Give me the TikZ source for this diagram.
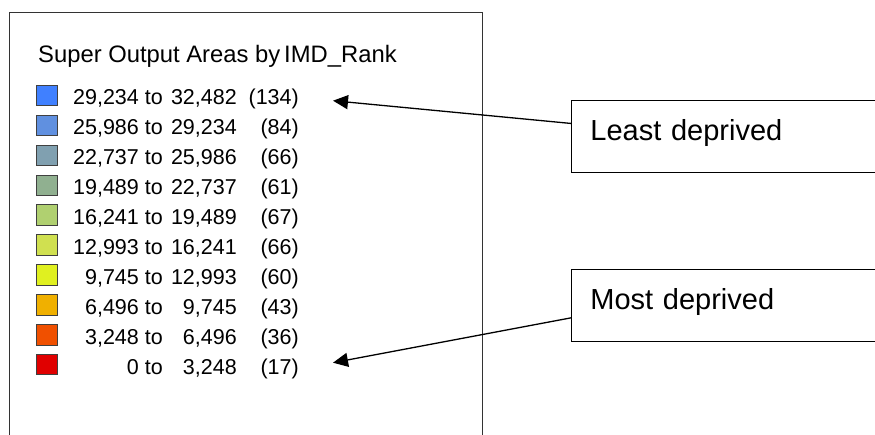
\documentclass[tikz,border=0pt]{standalone}
\usepackage{fontspec}
\setmainfont{Liberation Sans}
\usepackage{tikz}
\usetikzlibrary{positioning, arrows.meta}
\usepackage{xcolor}

\definecolor{rankA}{HTML}{4080FF}
\definecolor{rankB}{HTML}{6090E0}
\definecolor{rankC}{HTML}{80A0B0}
\definecolor{rankD}{HTML}{90B090}
\definecolor{rankE}{HTML}{B0D070}
\definecolor{rankF}{HTML}{D0E050}
\definecolor{rankG}{HTML}{E0F020}
\definecolor{rankH}{HTML}{F0B000}
\definecolor{rankI}{HTML}{F05000}
\definecolor{rankJ}{HTML}{E00000}

\begin{document}
\begin{tikzpicture}[
    x=1pt, y=-1pt,
    node distance=96pt,
    keybox/.style={draw=black!75, line width=0.8pt, minimum size=20.5pt, inner sep=0pt},
    rowtext/.style={anchor=base east, inner sep=0pt, font=\fontsize{21.5}{24}\selectfont},
    callout/.style={draw, line width=0.9pt, rectangle, align=left, text width=300pt,
        inner xsep=19pt, minimum height=72pt, text height=19pt, text depth=10pt,
        font=\fontsize{29}{32}\selectfont},
    pointer/.style={-{Triangle[length=15pt, width=14pt]}, line width=1.3pt}
]
    \clip (0,0) rectangle (875,435);

    % Frame
    \draw[line width=0.8pt, black!80] (9.5,440) -- (9.5,12) -- (482,12) -- (482,440);

    % Legend
    \node[anchor=base west, inner sep=0pt, font=\fontsize{23.8}{26}\selectfont] (title) at (38,62.5)
        {Super Output Areas by\,IMD\_Rank};
    \foreach \col/\lo/\hi/\cnt [count=\i] in {
        rankA/{29,234}/{32,482}/134, rankB/{25,986}/{29,234}/84,
        rankC/{22,737}/{25,986}/66, rankD/{19,489}/{22,737}/61,
        rankE/{16,241}/{19,489}/67, rankF/{12,993}/{16,241}/66,
        rankG/{9,745}/{12,993}/60, rankH/{6,496}/{9,745}/43,
        rankI/{3,248}/{6,496}/36, rankJ/0/{3,248}/17} {
        \pgfmathsetmacro\yb{105+29.9*(\i-1)}
        \node[keybox, fill=\col] (key\i) at (47,\yb-9.5) {};
        \node[rowtext] (lo\i) at (163,\yb) {\lo\ to};
        \node[rowtext] (hi\i) at (237,\yb) {\hi};
        \node[rowtext] (cnt\i) at (299,\yb) {(\cnt)};
    }

    % Labels
    \node[callout, anchor=north west] (least) at (571,100) {Least deprived};
    \node[callout, below=of least.south west, anchor=north west] (most) {Most deprived};

    % Arrows
    \coordinate (tipLeast) at (333,100.7);
    \coordinate (tipMost) at (333,362.7);
    \draw[pointer] ([yshift=13pt]least.west) -- (tipLeast);
    \draw[pointer] ([yshift=-12.5pt]most.west) -- (tipMost);
\end{tikzpicture}
\end{document}
